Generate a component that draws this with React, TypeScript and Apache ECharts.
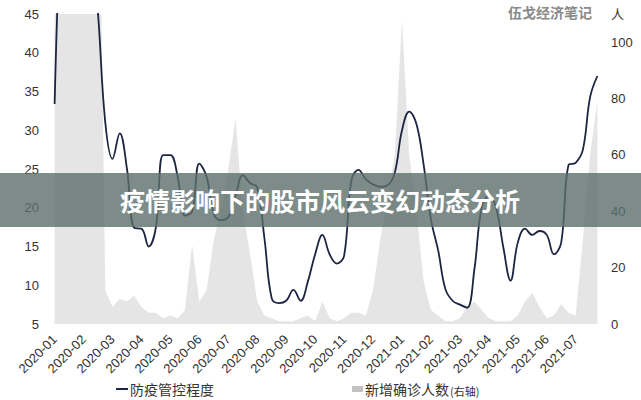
import React, { useEffect, useRef } from "react";
import * as echarts from "echarts";

const months = [
  "2020-01", "2020-02", "2020-03", "2020-04", "2020-05", "2020-06", "2020-07",
  "2020-08", "2020-09", "2020-10", "2020-11", "2020-12", "2021-01", "2021-02",
  "2021-03", "2021-04", "2021-05", "2021-06", "2021-07",
];
const weeks = ["W1", "W2", "W3", "W4"];
const categories = months.flatMap((m) => weeks.map((w) => `${m} ${w}`));

// 防疫管控程度 (left axis), weekly
const controlIndex = [
  33.4, 60, 70, 70, 65, 55, 45, 31,
  26.3, 29.6, 25, 17.4, 17.3, 15.0, 17.5, 26.8,
  26.8, 24, 19, 19.5, 25.7, 24, 19.2, 18.4,
  18.8, 21.5, 24.2, 23.2, 22.6, 16, 8.3, 7.7,
  8, 9.4, 8, 10.5, 14, 16.5, 14, 12.8,
  13.8, 23.5, 24.9, 23.7, 23, 22.7, 22.9, 24.5,
  30, 32.4, 30.8, 25.5, 18.5, 14.5, 9.5, 8,
  7.5, 7.1, 12, 20, 21.5, 20, 14.9, 10.6,
  15.5, 17.3, 16.5, 17, 16.5, 14, 15.5, 25.5,
  25.8, 27.5, 34.3, 37,
];

// 新增确诊人数 (right axis), weekly
const newCases = [
  150, 300, 300, 300, 300, 300, 200, 12,
  6, 9, 8, 10, 6, 4, 4, 2,
  3, 2, 5, 28, 8, 12, 30, 40,
  55, 73, 40, 25, 8, 3, 2, 1,
  1, 1, 2, 3, 1, 8, 2, 1,
  2, 4, 4, 3, 12, 30, 45, 60,
  108, 60, 40, 15, 5, 3, 1, 1,
  2, 6, 8, 5, 2, 1, 1, 1,
  3, 8, 11, 6, 2, 3, 7, 4,
  3, 30, 60, 79,
];

const leftTicks = { min: 5, max: 45, interval: 5 };
const rightTicks = { min: 0, max: 110, interval: 20 };

const FONT = '"Liberation Sans", "Noto Sans CJK SC", sans-serif';
const CJK = '"Noto Sans CJK SC", sans-serif';

export default function App() {
  const ref = useRef<HTMLDivElement>(null);
  useEffect(() => {
    if (!ref.current) return;
    const chart = echarts.init(ref.current, null, { renderer: "svg" });
    chart.setOption({
      animation: false,
      backgroundColor: "#ffffff",
      textStyle: { fontFamily: FONT },
      grid: { left: 51, right: 40, top: 14, bottom: 76 },
      legend: [
        {
          data: [{ name: "防疫管控程度", icon: "rect" }],
          left: 116,
          top: 382,
          padding: 0,
          itemWidth: 12,
          itemHeight: 2,
          itemGap: 4,
          textStyle: { fontFamily: CJK, fontSize: 14, color: "#333", padding: [0, 0, 0, -3] },
        },
        {
          data: [{ name: "新增确诊人数", icon: "rect", itemStyle: { color: "#c2c2c2" } }],
          left: 352,
          top: 382,
          padding: 0,
          itemWidth: 11,
          itemHeight: 6,
          textStyle: {
            fontFamily: CJK,
            color: "#333",
            rich: {
              a: { fontFamily: CJK, fontSize: 14, color: "#333", padding: [0, 0, 0, -3] },
              s: { fontFamily: CJK, fontSize: 11, color: "#333", padding: [3, 0, 0, 1] },
            },
          },
          formatter: (name: string) => `{a|${name}}{s|(右轴)}`,
        },
      ],
      xAxis: {
        type: "category",
        data: categories,
        boundaryGap: true,
        axisLine: { show: false },
        axisTick: { show: false },
        splitLine: { show: false },
        axisLabel: {
          interval: 3,
          rotate: 45,
          margin: 13,
          fontSize: 13,
          color: "#333",
          formatter: (v: string) => (v.endsWith("W1") ? v.slice(0, 7) : ""),
        },
      },
      yAxis: [
        {
          type: "value",
          ...leftTicks,
          axisLine: { show: false },
          axisTick: { show: false },
          splitLine: { show: false },
          axisLabel: { fontSize: 13, color: "#333", margin: 12 },
        },
        {
          type: "value",
          ...rightTicks,
          position: "right",
          axisLine: { show: false },
          axisTick: { show: false },
          splitLine: { show: false },
          axisLabel: {
            fontSize: 13,
            color: "#333",
            margin: 10,
            formatter: (v: number) => (v === 110 ? "人" : String(v)),
          },
        },
      ],
      series: [
        {
          name: "新增确诊人数",
          type: "line",
          yAxisIndex: 1,
          data: newCases,
          symbol: "none",
          clip: true,
          lineStyle: { width: 0, color: "#e5e5e5" },
          itemStyle: { color: "#c2c2c2" },
          areaStyle: { color: "#e5e5e5", opacity: 1 },
          z: 1,
        },
        {
          name: "防疫管控程度",
          type: "line",
          yAxisIndex: 0,
          data: controlIndex,
          symbol: "none",
          smooth: 0.4,
          clip: true,
          lineStyle: { width: 1.8, color: "#1c2541" },
          itemStyle: { color: "#1c2541" },
          z: 3,
        },
      ],
      graphic: [
        {
          type: "text",
          left: 508,
          top: 5,
          style: {
            text: "伍戈经济笔记",
            fontFamily: CJK,
            fontSize: 14,
            fontWeight: "bold",
            fill: "#8a8a8a",
          },
          z: 10,
        },
        {
          type: "rect",
          shape: { x: 0, y: 173, width: 641, height: 54 },
          style: { fill: "rgba(92,111,108,0.8)" },
          z: 20,
        },
        {
          type: "text",
          x: 320,
          y: 200,
          style: {
            text: "疫情影响下的股市风云变幻动态分析",
            fontFamily: CJK,
            fontSize: 25,
            fontWeight: "bold",
            fill: "#ffffff",
            align: "center",
            verticalAlign: "middle",
          },
          z: 21,
        },
      ],
    });
    return () => chart.dispose();
  }, []);
  return (
    <div
      ref={ref}
      style={{ position: "fixed", left: 0, top: 0, width: 641, height: 400 }}
    />
  );
}
